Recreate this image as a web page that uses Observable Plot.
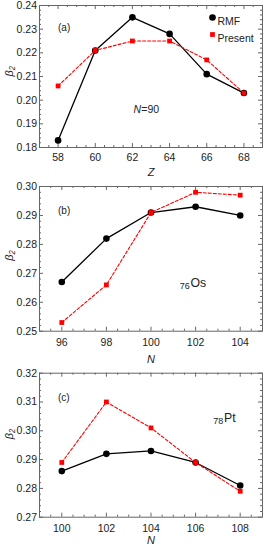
<!DOCTYPE html>
<html><head><meta charset="utf-8">
<script src="https://cdn.jsdelivr.net/npm/d3@7"></script>
<script src="https://cdn.jsdelivr.net/npm/@observablehq/plot@0.6"></script>
<style>
body{margin:0;background:#fff;}
#chart{width:264px;}
#chart svg{display:block;overflow:visible;}
</style></head><body><div id="chart"></div>
<script>
// Panel (a): N = 90 isotones
const zA = [58, 60, 62, 64, 66, 68];
const rmfA = [0.183, 0.221, 0.235, 0.228, 0.211, 0.203];
const presentA = [0.206, 0.221, 0.225, 0.225, 0.217, 0.203];
// Panel (b): Os isotopes
const nB = [96, 98, 100, 102, 104];
const rmfB = [0.267, 0.282, 0.291, 0.293, 0.290];
const presentB = [0.253, 0.266, 0.291, 0.298, 0.297];
// Panel (c): Pt isotopes
const nC = [100, 102, 104, 106, 108];
const rmfC = [0.286, 0.292, 0.293, 0.289, 0.281];
const presentC = [0.289, 0.310, 0.301, 0.289, 0.279];
// Tick labels
const xTicksA = [58, 60, 62, 64, 66, 68];
const xTicksB = [96, 98, 100, 102, 104];
const xTicksC = [100, 102, 104, 106, 108];
const yTicksA = [0.18, 0.19, 0.20, 0.21, 0.22, 0.23, 0.24];
const yTicksB = [0.25, 0.26, 0.27, 0.28, 0.29, 0.30];
const yTicksC = [0.27, 0.28, 0.29, 0.30, 0.31, 0.32];
const seriesNames = ["RMF", "Present"];

const FONT = "'Liberation Sans', Arial, Helvetica, sans-serif";
const FRAME = "#666";

function panel(o) {
  const W = 264, ml = 39, mr = 2;
  const fw = W - ml - mr, fh = o.height - o.marginTop - o.marginBottom;
  const rows = o.x.map((v, i) => ({x: v, rmf: o.rmf[i], present: o.present[i]}));
  const xMinor = d3.range(o.xDomain[0] * 2, o.xDomain[1] * 2 + 1).map(v => v / 2).filter(v => !o.xTicks.includes(v));
  const y0 = Math.round(o.yDomain[0] * 1000), y1 = Math.round(o.yDomain[1] * 1000);
  const yMinor = d3.range(y0, y1 + 1, 2).filter(v => v % 10 !== 0).map(v => v / 1000);
  const L = 4, l = 2;
  const tickStyle = {stroke: FRAME, strokeWidth: 1};
  return Plot.plot({
    width: W, height: o.height,
    marginLeft: ml, marginRight: mr, marginTop: o.marginTop, marginBottom: o.marginBottom,
    style: {fontFamily: FONT, fontSize: "10.5px", color: "#222", background: "transparent"},
    x: {domain: o.xDomain},
    y: {domain: o.yDomain},
    marks: [
      Plot.frame({stroke: FRAME, strokeWidth: 1}),
      Plot.tickX(o.xTicks, {x: d => d, insetTop: fh - L, ...tickStyle}),
      Plot.tickX(o.xTicks, {x: d => d, insetBottom: fh - L, ...tickStyle}),
      Plot.tickX(xMinor, {x: d => d, insetTop: fh - l, ...tickStyle}),
      Plot.tickX(xMinor, {x: d => d, insetBottom: fh - l, ...tickStyle}),
      Plot.tickY(o.yTicks, {y: d => d, insetRight: fw - L, ...tickStyle}),
      Plot.tickY(o.yTicks, {y: d => d, insetLeft: fw - L, ...tickStyle}),
      Plot.tickY(yMinor, {y: d => d, insetRight: fw - l, ...tickStyle}),
      Plot.tickY(yMinor, {y: d => d, insetLeft: fw - l, ...tickStyle}),
      Plot.axisX(o.xTicks, {tickSize: 0, tickPadding: o.xTickPad, label: null, tickFormat: d => String(d)}),
      Plot.axisY(o.yTicks, {tickSize: 0, tickPadding: 2.5, label: null, tickFormat: d3.format(".2f")}),
      Plot.line(rows, {x: "x", y: "rmf", stroke: "#000", strokeWidth: 1.3}),
      Plot.dot(rows, {x: "x", y: "rmf", r: 3.3, fill: "#000"}),
      Plot.line(rows, {x: "x", y: "present", stroke: "#f00", strokeWidth: 1.1, strokeDasharray: "3,2"}),
      Plot.dot(rows, {x: "x", y: "present", r: 2.7, symbol: "square", fill: "#f00"}),
      Plot.text([o.tag], {frameAnchor: "top-left", dx: 18.5, dy: o.tagDy, text: d => d, fontSize: 10}),
      Plot.text([o.xLabel], {frameAnchor: "bottom", dy: o.xLabelDy, text: d => d, fontStyle: "italic", fontSize: 11}),
      Plot.text(["β₂"], {frameAnchor: "left", dx: -30, dy: o.yLabelDy, rotate: -90, text: d => d, fontStyle: "italic", fontSize: 11}),
      ...(o.extras || [])
    ]
  });
}

const chart = document.getElementById("chart");

chart.appendChild(panel({
  x: zA, rmf: rmfA, present: presentA,
  xDomain: [57, 69], yDomain: [0.18, 0.24], xTicks: xTicksA, yTicks: yTicksA,
  height: 180, marginTop: 5, marginBottom: 33, xTickPad: 5.7, xLabelDy: 28, yLabelDy: 0,
  xLabel: "Z", tag: "(a)", tagDy: 18.3,
  extras: [
    Plot.dot([seriesNames[0]], {frameAnchor: "top-left", dx: 173, dy: 12, r: 3.3, fill: "#000"}),
    Plot.text([seriesNames[0]], {frameAnchor: "top-left", dx: 178, dy: 12, text: d => d, textAnchor: "start", fontSize: 10.5}),
    Plot.dot([seriesNames[1]], {frameAnchor: "top-left", dx: 173, dy: 29, r: 2.7, symbol: "square", fill: "#f00"}),
    Plot.text([seriesNames[1]], {frameAnchor: "top-left", dx: 178, dy: 29, text: d => d, textAnchor: "start", fontSize: 10.5}),
    Plot.text(["N"], {frameAnchor: "top-left", dx: 101.6, dy: 100, text: d => d, textAnchor: "end", fontStyle: "italic", fontSize: 10.5}),
    Plot.text(["=90"], {frameAnchor: "top-left", dx: 101.8, dy: 100, text: d => d, textAnchor: "start", fontSize: 10.5})
  ]
}));

chart.appendChild(panel({
  x: nB, rmf: rmfB, present: presentB,
  xDomain: [95, 105], yDomain: [0.25, 0.30], xTicks: xTicksB, yTicks: yTicksB,
  height: 186, marginTop: 6, marginBottom: 35.3, xTickPad: 7.8, xLabelDy: 32, yLabelDy: 2,
  xLabel: "N", tag: "(b)", tagDy: 20.7,
  extras: [
    Plot.text(["76"], {frameAnchor: "top-left", dx: 150.3, dy: 95.7, text: d => d, textAnchor: "end", fontSize: 9}),
    Plot.text(["Os"], {frameAnchor: "top-left", dx: 151, dy: 91.3, text: d => d, textAnchor: "start", fontSize: 12.3})
  ]
}));

chart.appendChild(panel({
  x: nC, rmf: rmfC, present: presentC,
  xDomain: [99, 109], yDomain: [0.27, 0.32], xTicks: xTicksC, yTicks: yTicksC,
  height: 182, marginTop: 6.7, marginBottom: 31.3, xTickPad: 7.8, xLabelDy: 27, yLabelDy: -6,
  xLabel: "N", tag: "(c)", tagDy: 20.6,
  extras: [
    Plot.text(["78"], {frameAnchor: "top-left", dx: 183.7, dy: 44.3, text: d => d, textAnchor: "end", fontSize: 9}),
    Plot.text(["Pt"], {frameAnchor: "top-left", dx: 184.5, dy: 40.3, text: d => d, textAnchor: "start", fontSize: 12.3})
  ]
}));
</script>
</body></html>
